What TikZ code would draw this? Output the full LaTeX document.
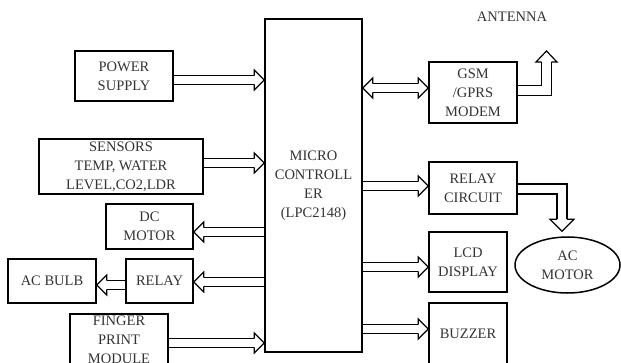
\documentclass[tikz,border=0pt]{standalone}
\usepackage{fontspec}
\setmainfont{Liberation Serif}
\usetikzlibrary{calc,shapes.geometric}
\tikzset{
  blk/.style={draw, line width=1.5pt, inner sep=0pt, align=center,
    font=\fontsize{14.5}{19}\selectfont, text=black!80},
  shaft/.style={double=white, double distance=7.4pt, line width=1.2pt},
  bshaft/.style={double=white, double distance=8.8pt, line width=1.2pt, line join=miter},
  headln/.style={line width=1.2pt, line join=miter},
}
\newcommand\harr[2]{%
  \draw[shaft] let \p1=(#1),\p2=(#2),\n1={sign(\x2-\x1)} in (\p1) -- (\x2-\n1*10pt,\y1);
  \draw[headln] let \p1=(#1),\p2=(#2),\n1={sign(\x2-\x1)} in
    (\x2-\n1*10pt,\y1+4.3pt) -- (\x2-\n1*10pt,\y1+10pt) -- (\x2,\y1) --
    (\x2-\n1*10pt,\y1-10pt) -- (\x2-\n1*10pt,\y1-4.3pt);
}
\newcommand\dharr[2]{%
  \draw[shaft] let \p1=(#1),\p2=(#2),\n1={sign(\x2-\x1)} in (\x1+\n1*10pt,\y1) -- (\x2-\n1*10pt,\y1);
  \draw[headln] let \p1=(#1),\p2=(#2),\n1={sign(\x2-\x1)} in
    (\x2-\n1*10pt,\y1+4.3pt) -- (\x2-\n1*10pt,\y1+10pt) -- (\x2,\y1) --
    (\x2-\n1*10pt,\y1-10pt) -- (\x2-\n1*10pt,\y1-4.3pt)
    (\x1+\n1*10pt,\y1+4.3pt) -- (\x1+\n1*10pt,\y1+10pt) -- (\x1,\y1) --
    (\x1+\n1*10pt,\y1-10pt) -- (\x1+\n1*10pt,\y1-4.3pt);
}
\begin{document}
\begin{tikzpicture}[x=1pt,y=-1pt]
\useasboundingbox (0,0) rectangle (621,362);
\clip (0,0) rectangle (621,362);
% left blocks
\node[blk, minimum width=98pt, minimum height=50pt] (power) at (124,76) {POWER\\SUPPLY};
\node[blk, minimum width=164pt, minimum height=55pt] (sensors) at (121,166.5) {SENSORS\\TEMP, WATER\\LEVEL,CO2,LDR};
\node[blk, minimum width=87pt, minimum height=45pt] (dcm) at (149.5,226.5) {DC\\MOTOR};
\node[blk, minimum width=88pt, minimum height=44pt] (acbulb) at (52,281) {AC BULB};
\node[blk, minimum width=67pt, minimum height=44pt] (relay) at (159.5,281) {RELAY};
\node[blk, minimum width=98pt, minimum height=52pt] (finger) at (119,340) {FINGER\\PRINT\\MODULE};
% controller
\node[blk, minimum width=97pt, minimum height=333pt] (mcu) at (313.5,185.5) {MICRO\\CONTROLL\\ER\\(LPC2148)};
% right blocks
\node[blk, minimum width=88pt, minimum height=61pt] (gsm) at (473,92.5) {GSM\\/GPRS\\MODEM};
\node[blk, minimum width=88pt, minimum height=52pt] (relcir) at (473,188) {RELAY\\CIRCUIT};
\node[blk, minimum width=78pt, minimum height=60pt] (lcd) at (468,262) {LCD\\DISPLAY};
\node[blk, minimum width=78pt, minimum height=61pt] (buzzer) at (468,333.5) {BUZZER};
\node[blk, ellipse, minimum width=105pt, minimum height=56pt] (acm) at (567.5,265) {AC\\MOTOR};
\node[font=\fontsize{14.5}{19}\selectfont, text=black!80, inner sep=0pt] (antenna) at (512,17) {ANTENNA};
% straight arrows
\harr{$(power.east)+(0,4)$}{mcu.west}
\harr{$(sensors.east)+(0,-3.5)$}{mcu.west}
\harr{$(mcu.west|-dcm.east)+(0,5.5)$}{dcm.east}
\harr{$(mcu.west|-relay.east)+(0,1)$}{relay.east}
\harr{$(relay.west)+(0,4)$}{acbulb.east}
\harr{$(finger.east)+(0,3)$}{mcu.west}
\dharr{$(mcu.east|-gsm.west)+(0,-4.5)$}{gsm.west}
\harr{$(mcu.east|-relcir.west)+(0,-2)$}{relcir.west}
\harr{$(mcu.east|-lcd.west)+(0,5)$}{lcd.west}
\harr{$(mcu.east|-buzzer.west)+(0,-4.5)$}{buzzer.west}
% bent arrows
\coordinate (anttip) at (546.5,51);
\draw[bshaft] ($(gsm.east)+(0,-2)$) -| ($(anttip)+(0,11)$);
\draw[headln] ($(anttip)+(-4.9,11)$) -- ($(anttip)+(-10.5,11)$) -- (anttip) -- ($(anttip)+(10.5,11)$) -- ($(anttip)+(4.9,11)$);
\coordinate (acmtip) at ($(acm.north)+(-5.5,-5)$);
\draw[bshaft] ($(relcir.east)+(0,1)$) -| ($(acmtip)+(0,-12)$);
\draw[headln] ($(acmtip)+(-4.9,-12)$) -- ($(acmtip)+(-12,-12)$) -- (acmtip) -- ($(acmtip)+(12,-12)$) -- ($(acmtip)+(4.9,-12)$);
\end{tikzpicture}
\end{document}
